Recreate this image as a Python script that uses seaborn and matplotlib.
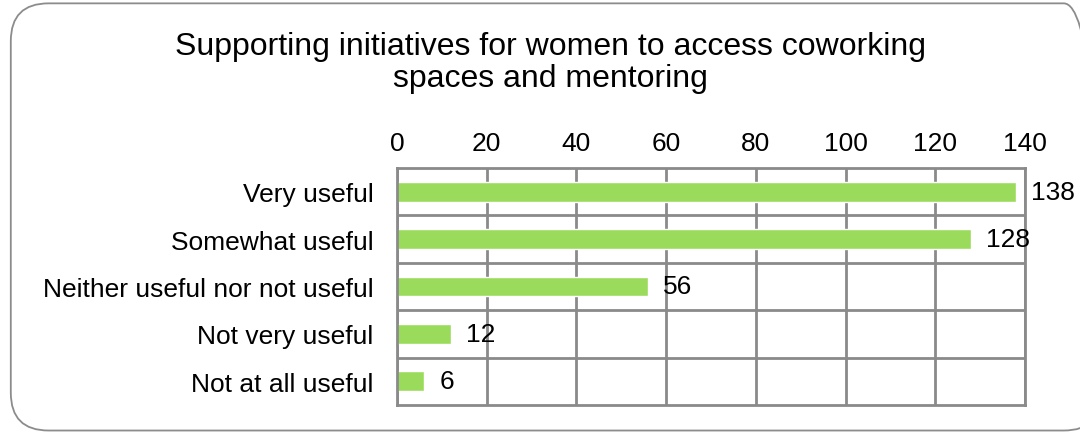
import matplotlib
matplotlib.use("Agg")
import matplotlib.pyplot as plt
import seaborn as sns
import pandas as pd
from matplotlib.patches import FancyBboxPatch

categories = ["Very useful", "Somewhat useful", "Neither useful nor not useful",
              "Not very useful", "Not at all useful"]
counts = [138, 128, 56, 12, 6]
x_ticks = [0, 20, 40, 60, 80, 100, 120, 140]
title = "Supporting initiatives for women to access coworking\nspaces and mentoring"

sns.set_theme(style="white")
plt.rcParams["font.family"] = ["Liberation Sans", "DejaVu Sans"]

df = pd.DataFrame({"category": categories, "count": counts})

fig = plt.figure(figsize=(10.8, 4.35), dpi=100)
ax = fig.add_axes([0.3676, 0.0667, 0.949 - 0.3676, 0.6115 - 0.0667])

sns.barplot(data=df, x="count", y="category", orient="h", color="#9bdb5b",
            saturation=1, width=0.42, ax=ax)

ax.set_xlim(0, 140)
ax.set_ylim(4.5, -0.5)
ax.set_xticks(x_ticks)
ax.xaxis.tick_top()
ax.tick_params(axis="x", length=0, pad=9, labelsize=19, colors="black")
ax.tick_params(axis="y", length=0, pad=17, labelsize=19, colors="black")
ax.set_xlabel("")
ax.set_ylabel("")

# grid lines: vertical at each tick, horizontal between rows
gcol = "#8a8a8a"
for t in x_ticks:
    ax.axvline(t, color=gcol, lw=2, zorder=0)
for b in [0.5, 1.5, 2.5, 3.5]:
    ax.axhline(b, color=gcol, lw=2, zorder=0)
for s in ax.spines.values():
    s.set_visible(True)
    s.set_color(gcol)
    s.set_linewidth(2)

for c in ax.containers:
    ax.bar_label(c, labels=[str(v) for v in counts], padding=11, fontsize=19,
                 color="black")

fig.text(0.51, 0.855, title, ha="center", va="center", fontsize=23,
         linespacing=1.05, color="black")

# rounded frame around the chart; its right side runs past the canvas edge
border = FancyBboxPatch((0.010, 0.008), 1.01, 0.982,
                        boxstyle="round,pad=0,rounding_size=0.035",
                        transform=fig.transFigure, fill=False,
                        edgecolor="#8c8c8c", lw=1.3, mutation_aspect=2.48)
fig.patches.append(border)

fig.savefig("out.png", dpi=100)
